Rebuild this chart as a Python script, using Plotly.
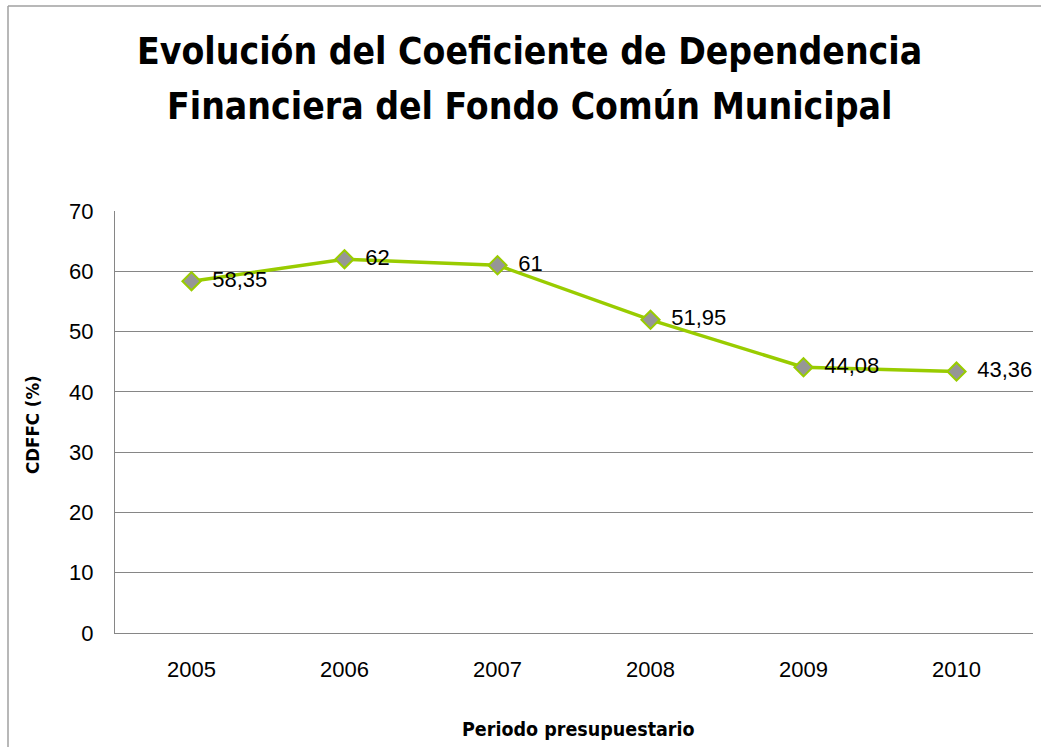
import plotly.graph_objects as go

years = ["2005", "2006", "2007", "2008", "2009", "2010"]
cdffc = [58.35, 62, 61, 51.95, 44.08, 43.36]
labels = ["58,35", "62", "61", "51,95", "44,08", "43,36"]
y_ticks = [0, 10, 20, 30, 40, 50, 60, 70]
title_lines = ["Evolución del Coeficiente de Dependencia",
               "Financiera del Fondo Común Municipal"]

W, H = 1041, 747
L, R, T, B = 115, 8, 211, 114
PW, PH = W - L - R, H - T - B
COND = "DejaVu Sans Condensed, Liberation Sans Narrow, Roboto"

def px_x(p):
    return (p - L) / PW

def px_y(p):
    return (H - B - p) / PH

fig = go.Figure()
fig.add_trace(go.Scatter(
    x=years, y=cdffc, mode="lines+markers+text",
    text=["\u2002" + t for t in labels], textposition="middle right",
    textfont=dict(family="Liberation Sans", size=22, color="#000000"),
    line=dict(color="#99CC00", width=3.5),
    marker=dict(symbol="diamond", size=14, color="#969696",
                line=dict(color="#99CC00", width=2)),
    cliponaxis=False, showlegend=False,
))

annotations = []
for line_text, cy in zip(title_lines, [51, 106]):
    annotations.append(dict(
        text="<b>" + line_text + "</b>", xref="paper", yref="paper",
        x=px_x(529), y=px_y(cy), xanchor="center", yanchor="middle",
        showarrow=False, font=dict(family=COND, size=37, color="#000000")))
annotations += [
    dict(text="<b>CDFFC (%)</b>", xref="paper", yref="paper",
         x=px_x(32), y=px_y(425), textangle=-90,
         xanchor="center", yanchor="middle", showarrow=False,
         font=dict(family=COND, size=18.5, color="#000000")),
    dict(text="<b>Periodo presupuestario</b>", xref="paper", yref="paper",
         x=px_x(578), y=px_y(729),
         xanchor="center", yanchor="middle", showarrow=False,
         font=dict(family=COND, size=19.5, color="#000000")),
]

fig.update_layout(
    width=W, height=H,
    margin=dict(l=L, r=R, t=T, b=B),
    paper_bgcolor="white", plot_bgcolor="white",
    font=dict(family="Liberation Sans", color="#000000"),
    xaxis=dict(type="category", showgrid=False, showline=True, linecolor="#868686",
               linewidth=1, tickfont=dict(size=22), ticks="", ticklabelstandoff=17,
               range=[-0.5, 5.5]),
    yaxis=dict(range=[0, 70], tickvals=y_ticks, showgrid=True, gridcolor="#868686",
               gridwidth=1, showline=True, linecolor="#868686", linewidth=1,
               zeroline=False, tickfont=dict(size=22), ticks="", ticklabelstandoff=16),
    annotations=annotations,
    shapes=[
        dict(type="line", xref="paper", yref="paper",
             x0=px_x(8), x1=px_x(8), y0=px_y(6), y1=px_y(760),
             line=dict(color="#A0A0A0", width=1.5)),
        dict(type="line", xref="paper", yref="paper",
             x0=px_x(8), x1=px_x(1060), y0=px_y(6), y1=px_y(6),
             line=dict(color="#A0A0A0", width=1.5)),
    ],
)

fig.write_html("out.html", config={"displayModeBar": False},
               post_script="document.body.style.margin='0';document.body.style.overflow='hidden';")
